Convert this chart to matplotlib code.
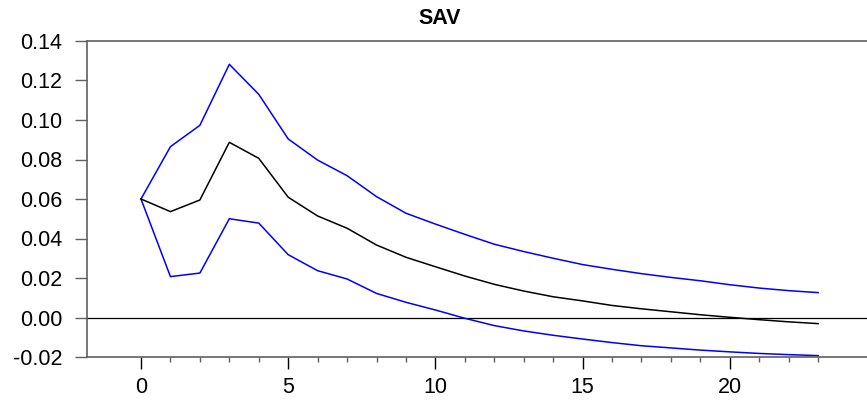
import matplotlib
matplotlib.use("Agg")
import matplotlib.pyplot as plt
import matplotlib.ticker as mticker
import numpy as np

plt.rcParams['font.family'] = ['Liberation Sans', 'DejaVu Sans']

# impulse response of SAV with confidence bands
periods = np.arange(24)
response = [0.0600, 0.0536, 0.0595, 0.0887, 0.0806, 0.0609, 0.0514, 0.0452,
            0.0367, 0.0305, 0.0257, 0.0210, 0.0168, 0.0134, 0.0105, 0.0084,
            0.0061, 0.0044, 0.0029, 0.0014, 0.0001, -0.0011, -0.0022, -0.0031]
upper = [0.0600, 0.0865, 0.0973, 0.1282, 0.1130, 0.0904, 0.0797, 0.0718,
         0.0612, 0.0528, 0.0473, 0.0421, 0.0371, 0.0334, 0.0300, 0.0268,
         0.0244, 0.0222, 0.0203, 0.0186, 0.0166, 0.0149, 0.0136, 0.0126]
lower = [0.0600, 0.0207, 0.0225, 0.0500, 0.0478, 0.0318, 0.0237, 0.0195,
         0.0122, 0.0077, 0.0038, -0.0004, -0.0041, -0.0068, -0.0090, -0.0109,
         -0.0127, -0.0143, -0.0154, -0.0165, -0.0174, -0.0182, -0.0188, -0.0193]

fig = plt.figure(figsize=(8.67, 4.0), dpi=100)
ax = fig.add_axes([87/867, 1 - 357/400, 1 - 87/867, (357 - 41)/400])

ax.axhline(0, color='black', lw=0.9)
ax.plot(periods, upper, color='#0000ff', lw=1.1)
ax.plot(periods, lower, color='#0000ff', lw=1.1)
ax.plot(periods, response, color='black', lw=1.1)

ax.set_xlim(-1.834, 24.66)
ax.set_ylim(-0.02, 0.14)
ax.xaxis.set_major_locator(mticker.MultipleLocator(5))
ax.xaxis.set_minor_locator(mticker.FixedLocator(periods))
ax.yaxis.set_major_locator(mticker.MultipleLocator(0.02))
ax.yaxis.set_major_formatter(mticker.FormatStrFormatter('%.2f'))

spine_col = '#606060'
ax.spines['right'].set_visible(False)
for s in ['left', 'top', 'bottom']:
    ax.spines[s].set_color(spine_col)
    ax.spines[s].set_linewidth(1.2)

ax.tick_params(axis='both', which='major', direction='out', length=8.6,
               width=1, color=spine_col, labelsize=15.5, pad=6)
ax.tick_params(axis='x', which='major', color='black')
ax.tick_params(axis='x', which='minor', direction='out', length=3.6,
               width=1, color=spine_col)
ax.tick_params(axis='y', pad=9)

fig.text(440/867, 1 - 19/400, 'SAV', ha='center', va='center',
         fontsize=15.5, fontweight='bold')

fig.savefig('out.png', dpi=100)
